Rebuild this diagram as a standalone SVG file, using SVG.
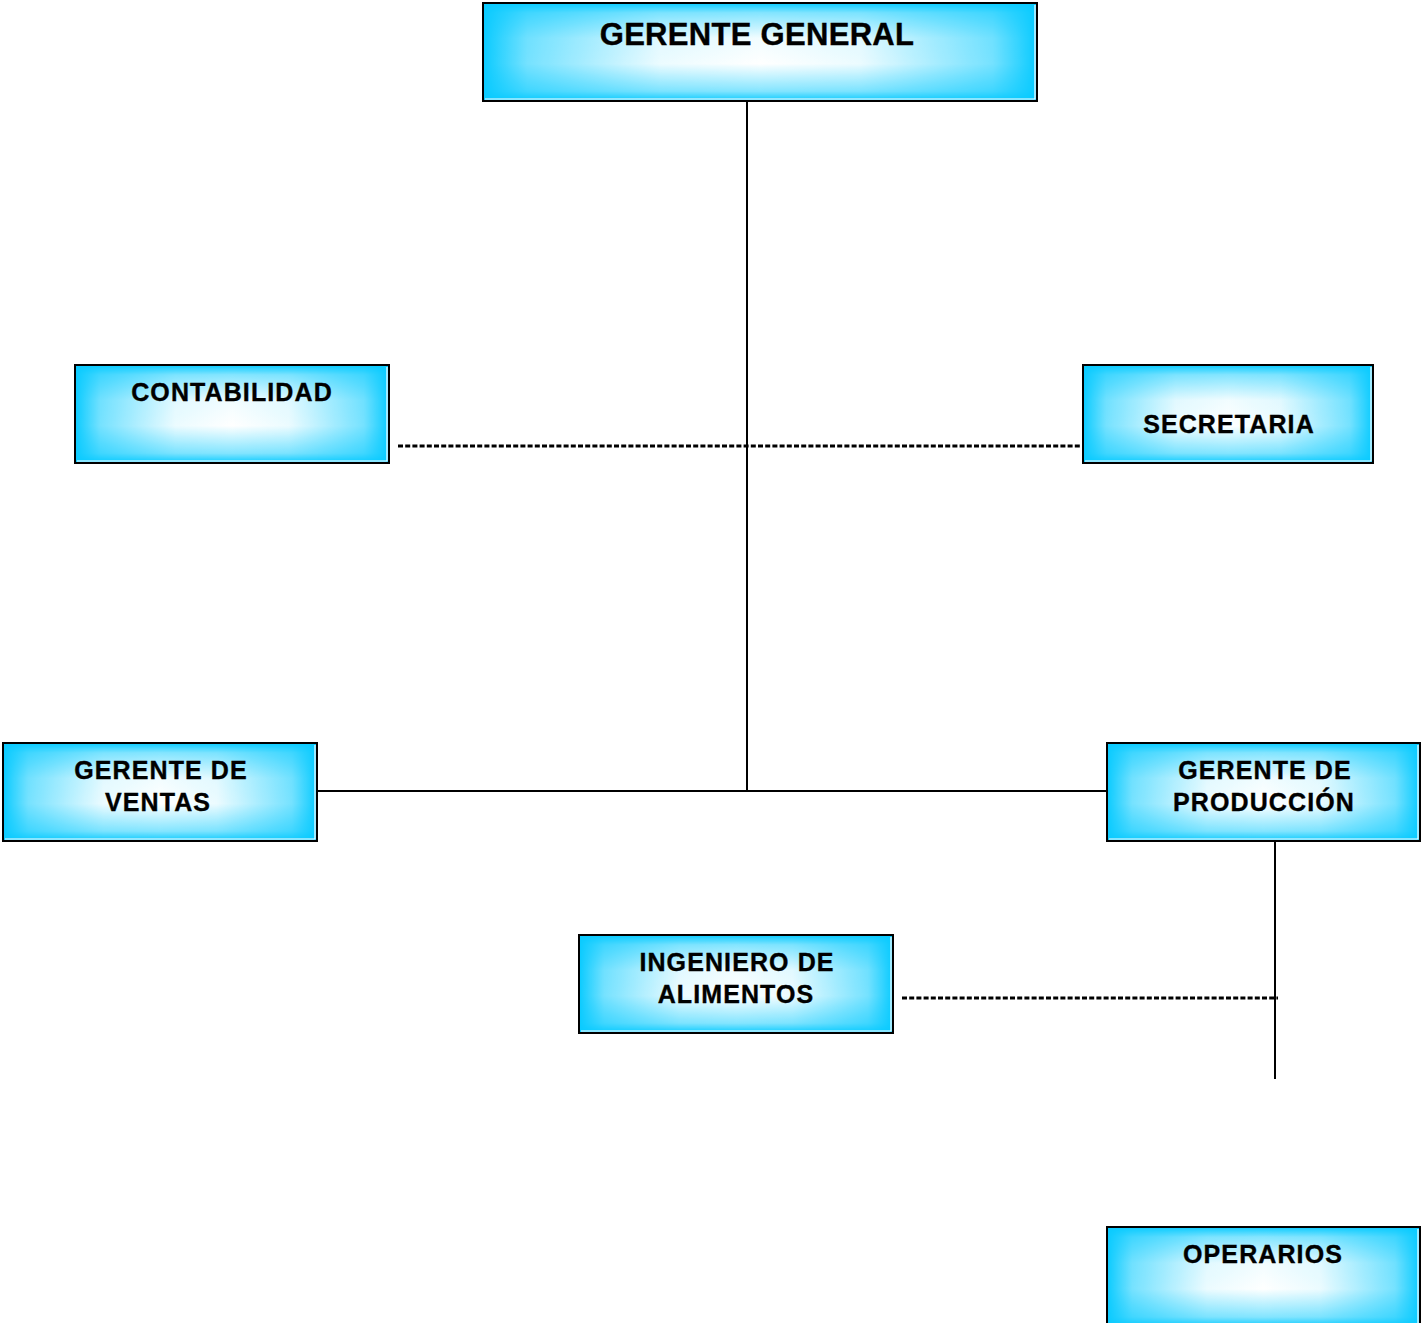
<svg xmlns="http://www.w3.org/2000/svg" width="1421" height="1323" viewBox="0 0 1421 1323">
  <style>
    .base { fill: #0ACBFF; }
    .glow { fill: #FFFFFF; }
    .frame { fill: none; stroke: #000; stroke-width: 2; }
    .rim { fill: none; stroke: #FFFFFF; stroke-width: 1.2; }
    .label { font-family: "Liberation Sans", Arial, sans-serif; font-weight: bold; font-size: 25px; letter-spacing: 1.1px; fill: #000; stroke: #000; stroke-width: 0.35; text-anchor: middle; }
    .title { font-size: 31px; letter-spacing: 0.3px; }
    .solid { stroke: #000; stroke-width: 2; fill: none; }
    .dashed { stroke: #000; stroke-width: 3; fill: none; stroke-dasharray: 5 2.2; }
  </style>
  <defs>
    <!-- white centre fading to cyan toward every edge: product of two ramps -->
    <linearGradient id="hRamp" x1="0" y1="0" x2="1" y2="0">
      <stop offset="0" stop-color="#000"/>
      <stop offset="0.08" stop-color="#707070"/>
      <stop offset="0.32" stop-color="#ececec"/>
      <stop offset="0.5" stop-color="#fff"/>
      <stop offset="0.68" stop-color="#ececec"/>
      <stop offset="0.92" stop-color="#707070"/>
      <stop offset="1" stop-color="#000"/>
    </linearGradient>
    <linearGradient id="vRamp" x1="0" y1="0" x2="0" y2="1">
      <stop offset="0" stop-color="#000"/>
      <stop offset="0.1" stop-color="#808080"/>
      <stop offset="0.36" stop-color="#f2f2f2"/>
      <stop offset="0.62" stop-color="#fff"/>
      <stop offset="0.9" stop-color="#808080"/>
      <stop offset="1" stop-color="#000"/>
    </linearGradient>
    <mask id="vMask" maskUnits="objectBoundingBox" maskContentUnits="objectBoundingBox" x="0" y="0" width="1" height="1">
      <rect x="0" y="0" width="1" height="1" fill="url(#vRamp)"/>
    </mask>
    <mask id="glowMask" maskUnits="objectBoundingBox" maskContentUnits="objectBoundingBox" x="0" y="0" width="1" height="1">
      <rect x="0" y="0" width="1" height="1" fill="url(#hRamp)" mask="url(#vMask)"/>
    </mask>
  </defs>

  <!-- connectors -->
  <g id="connectors">
    <line class="solid" x1="747" y1="95" x2="747" y2="792"/>
    <line class="dashed" x1="398" y1="446" x2="1081" y2="446"/>
    <line class="solid" x1="316" y1="791" x2="1108" y2="791"/>
    <line class="solid" x1="1275" y1="838" x2="1275" y2="1079"/>
    <line class="dashed" x1="902" y1="998" x2="1278" y2="998"/>
  </g>

  <g id="gerente-general">
    <rect class="base" x="483" y="3" width="554" height="98"/>
    <rect class="glow" x="483" y="3" width="554" height="98" mask="url(#glowMask)"/>
    <path class="rim" d="M485 99 H1035 V5"/>
    <rect class="frame" x="483" y="3" width="554" height="98"/>
    <text class="label title" x="757" y="45">GERENTE GENERAL</text>
  </g>

  <g id="contabilidad">
    <rect class="base" x="75" y="365" width="314" height="98"/>
    <rect class="glow" x="75" y="365" width="314" height="98" mask="url(#glowMask)"/>
    <path class="rim" d="M77 461 H387 V367"/>
    <rect class="frame" x="75" y="365" width="314" height="98"/>
    <text class="label" x="232" y="401">CONTABILIDAD</text>
  </g>

  <g id="secretaria">
    <rect class="base" x="1083" y="365" width="290" height="98"/>
    <rect class="glow" x="1083" y="365" width="290" height="98" mask="url(#glowMask)"/>
    <path class="rim" d="M1085 461 H1371 V367"/>
    <rect class="frame" x="1083" y="365" width="290" height="98"/>
    <text class="label" x="1229" y="433">SECRETARIA</text>
  </g>

  <g id="gerente-ventas">
    <rect class="base" x="3" y="743" width="314" height="98"/>
    <rect class="glow" x="3" y="743" width="314" height="98" mask="url(#glowMask)"/>
    <path class="rim" d="M5 839 H315 V745"/>
    <rect class="frame" x="3" y="743" width="314" height="98"/>
    <text class="label" x="161" y="779">GERENTE DE</text>
    <text class="label" x="158" y="811">VENTAS</text>
  </g>

  <g id="gerente-produccion">
    <rect class="base" x="1107" y="743" width="313" height="98"/>
    <rect class="glow" x="1107" y="743" width="313" height="98" mask="url(#glowMask)"/>
    <path class="rim" d="M1109 839 H1418 V745"/>
    <rect class="frame" x="1107" y="743" width="313" height="98"/>
    <text class="label" x="1265" y="779">GERENTE DE</text>
    <text class="label" x="1264" y="811">PRODUCCIÓN</text>
  </g>

  <g id="ingeniero-alimentos">
    <rect class="base" x="579" y="935" width="314" height="98"/>
    <rect class="glow" x="579" y="935" width="314" height="98" mask="url(#glowMask)"/>
    <path class="rim" d="M581 1031 H891 V937"/>
    <rect class="frame" x="579" y="935" width="314" height="98"/>
    <text class="label" x="737" y="971">INGENIERO DE</text>
    <text class="label" x="736" y="1003">ALIMENTOS</text>
  </g>

  <g id="operarios">
    <rect class="base" x="1107" y="1227" width="313" height="100"/>
    <rect class="glow" x="1107" y="1227" width="313" height="100" mask="url(#glowMask)"/>
    <path class="rim" d="M1418 1325 V1229"/>
    <rect class="frame" x="1107" y="1227" width="313" height="100"/>
    <text class="label" x="1263" y="1263">OPERARIOS</text>
  </g>
</svg>
